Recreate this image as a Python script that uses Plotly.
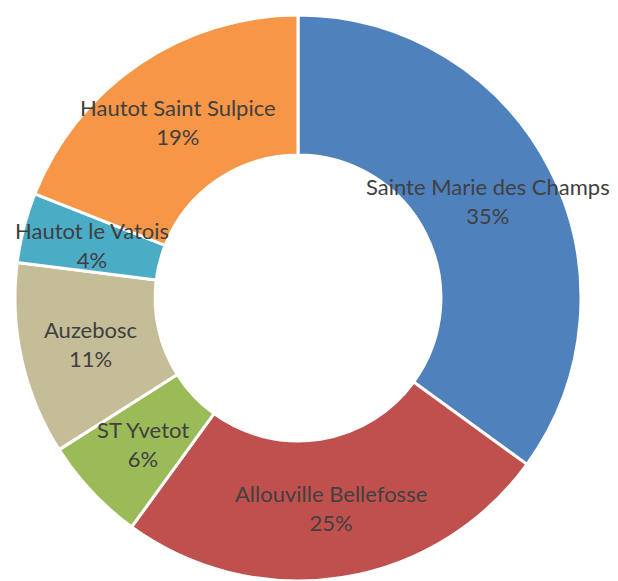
import math
import plotly.graph_objects as go

labels = ["Sainte Marie des Champs", "Allouville Bellefosse", "ST Yvetot",
          "Auzebosc", "Hautot le Vatois", "Hautot Saint Sulpice"]
values = [35, 25, 6, 11, 4, 19]
colors = ["#4F81BD", "#C0504D", "#9BBB59", "#C4BD97", "#4BACC6", "#F79646"]

# the page adds an 8px body margin, so keep the div inside the 618x581 window
W, H = 610, 573
dom_x = [7 / W, 573 / W]
dom_y = [0.0, 1 - 7 / H]
hole = 0.505

fig = go.Figure(go.Pie(
    labels=labels, values=values, sort=False, direction="clockwise", rotation=0,
    hole=hole, marker=dict(colors=colors, line=dict(color="white", width=3)),
    textinfo="none", hoverinfo="label+percent", showlegend=False,
    domain=dict(x=dom_x, y=dom_y),
))

# label positions: middle of the ring at each slice's mid-angle
wpx = (dom_x[1] - dom_x[0]) * W
hpx = (dom_y[1] - dom_y[0]) * H
r = min(wpx, hpx) / 2
cx = (dom_x[0] + dom_x[1]) / 2 * W
cy = (1 - (dom_y[0] + dom_y[1]) / 2) * H
rmid = r * (1 + hole) / 2
total = sum(values)
cum = 0
for lab, v in zip(labels, values):
    mid = (cum + v / 2) / total * 2 * math.pi
    cum += v
    px = cx + rmid * math.sin(mid)
    py = cy - rmid * math.cos(mid)
    pct = round(v / total * 100)
    fig.add_annotation(
        x=px / W, y=1 - py / H, xref="paper", yref="paper",
        text=f"{lab}<br>{pct}%", showarrow=False,
        font=dict(family="Lato", size=22, color="#404040"),
        xanchor="center", yanchor="middle",
    )

fig.update_layout(width=W, height=H, margin=dict(l=0, r=0, t=0, b=0),
                  paper_bgcolor="white", plot_bgcolor="white")
fig.write_html("out.html")
